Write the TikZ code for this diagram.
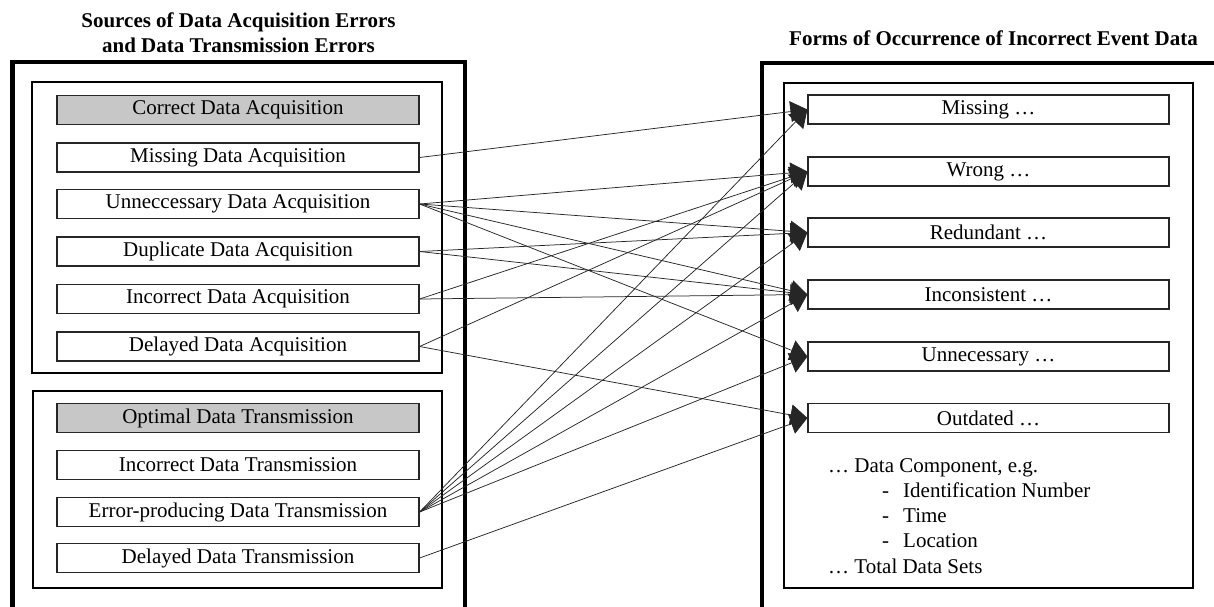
\documentclass[tikz,border=0pt]{standalone}
\usepackage{fontspec}
\setmainfont{Liberation Serif}
\usetikzlibrary{arrows.meta}
\tikzset{
  txt/.style={font=\fontsize{21}{25}\selectfont, inner sep=0pt},
  ttl/.style={font=\bfseries\fontsize{21}{25}\selectfont, inner sep=0pt},
  cell/.style={txt, draw=black!85, line width=1.2pt, minimum height=29pt, fill=white},
  srccell/.style={cell, minimum width=362pt},
  refcell/.style={srccell, fill=black!22},
  formcell/.style={cell, minimum width=361pt},
  outerframe/.style={draw=black, line width=4.5pt},
  innerframe/.style={draw=black, line width=2.5pt},
  link/.style={draw=black!85, line width=0.75pt, -{Triangle[length=17pt, width=21pt]}},
}
\begin{document}
\begin{tikzpicture}[x=1pt, y=-1pt]
\useasboundingbox (0,0) rectangle (1214,606);
\clip (0,0) rectangle (1214,606);

% headings
\node[ttl, anchor=base] (srctitle) at (238.5,27) {Sources of Data Acquisition Errors};
\node[ttl, anchor=base] (srctitleb) at (238.5,52) {and Data Transmission Errors};
\node[ttl, anchor=base] (formtitle) at (993.5,45) {Forms of Occurrence of Incorrect Event Data};

% outer frames (open towards the page edges)
\draw[outerframe] (12.5,610) -- (12.5,62) -- (465,62) -- (465,610);
\draw[outerframe] (762,610) -- (762,63) -- (1220,63);

% inner frames
\draw[innerframe] (32,82) rectangle (442,373);
\draw[innerframe] (33,391) rectangle (442,588);
\draw[innerframe] (784,83) rectangle (1193,588);

% data acquisition
\node[refcell] (cA) at (238,110) {Correct Data Acquisition};
\node[srccell] (mA) at (238,157.5) {Missing Data Acquisition};
\node[srccell] (uA) at (238,204) {Unneccessary Data Acquisition};
\node[srccell] (dA) at (238,251.5) {Duplicate Data Acquisition};
\node[srccell] (iA) at (238,299) {Incorrect Data Acquisition};
\node[srccell] (lA) at (238,346.5) {Delayed Data Acquisition};

% data transmission
\node[refcell] (oT) at (238,418) {Optimal Data Transmission};
\node[srccell] (iT) at (238,465) {Incorrect Data Transmission};
\node[srccell] (eT) at (238,512) {Error-producing Data Transmission};
\node[srccell] (lT) at (238,558) {Delayed Data Transmission};

% forms of occurrence
\node[formcell] (mis) at (988.5,109.5) {Missing …};
\node[formcell] (wro) at (988.5,171.5) {Wrong …};
\node[formcell] (red) at (988.5,232.5) {Redundant …};
\node[formcell] (inc) at (988.5,294.5) {Inconsistent …};
\node[formcell] (unn) at (988.5,356.5) {Unnecessary …};
\node[formcell] (out) at (988.5,418) {Outdated …};

% scope of the forms
\node[txt, anchor=base west] (comp) at (828,472) {… Data Component, e.g.};
\node[txt, anchor=base west] (compid) at (882,497) {\makebox[21pt][l]{-}Identification Number};
\node[txt, anchor=base west] (comptime) at (882,522) {\makebox[21pt][l]{-}Time};
\node[txt, anchor=base west] (comploc) at (882,547) {\makebox[21pt][l]{-}Location};
\node[txt, anchor=base west] (total) at (828,573) {… Total Data Sets};

% causes and effects
\draw[link] (mA.east) -- (mis.west);
\draw[link] (uA.east) -- (wro.west);
\draw[link] (uA.east) -- (red.west);
\draw[link] (uA.east) -- (inc.west);
\draw[link] (uA.east) -- (unn.west);
\draw[link] (dA.east) -- (red.west);
\draw[link] (dA.east) -- (inc.west);
\draw[link] (iA.east) -- (wro.west);
\draw[link] (iA.east) -- (inc.west);
\draw[link] (lA.east) -- (wro.west);
\draw[link] (lA.east) -- (out.west);
\draw[link] (eT.east) -- (mis.west);
\draw[link] (eT.east) -- (wro.west);
\draw[link] (eT.east) -- (red.west);
\draw[link] (eT.east) -- (inc.west);
\draw[link] (eT.east) -- (unn.west);
\draw[link] (lT.east) -- (out.west);
\end{tikzpicture}
\end{document}
